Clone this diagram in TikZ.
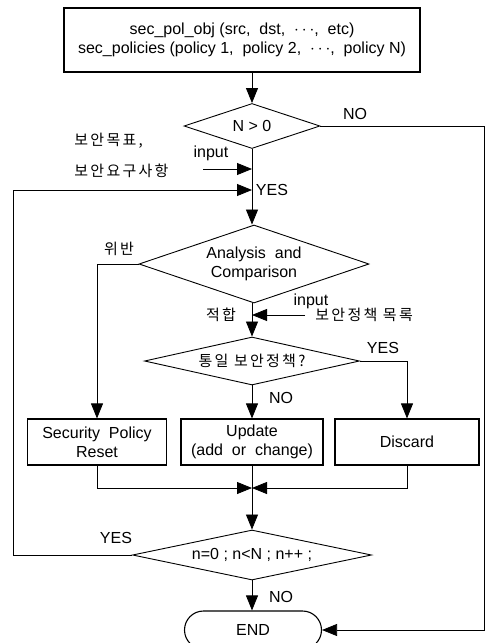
\documentclass[tikz,border=0pt]{standalone}
\usepackage{fontspec}
\setmainfont{Liberation Sans}
\newfontfamily\krf[LetterSpace=15]{Noto Sans CJK KR}
\newcommand\kr{\krf\fontsize{15}{18}\selectfont}
\usetikzlibrary{shapes.geometric,shapes.misc,arrows.meta}

\tikzset{
  box/.style={draw,line width=1.1pt,inner sep=0pt,align=center},
  dec/.style={draw,diamond,shape aspect=4,line width=0.9pt,inner sep=0pt,align=center},
  arr/.style={-{Triangle[length=15pt,width=12pt]}},
  lbl/.style={inner sep=0pt}
}

\begin{document}
\begin{tikzpicture}[x=1pt,y=-1pt,line width=0.8pt,font=\fontsize{16}{19}\selectfont]
\useasboundingbox (0,0) rectangle (486,643);
% process boxes
\node[box,minimum width=356pt,minimum height=64pt] (obj) at (242,40)
  {sec\_pol\_obj (src, \ dst, \ $\cdots$, \ etc)\\sec\_policies (policy 1, \ policy 2, \ $\cdots$, \ policy N)};
\node[box,minimum width=139pt,minimum height=46pt] (spr) at (97,442) {Security \ Policy\\Reset};
\node[box,minimum width=142pt,minimum height=46pt] (upd) at (252,442) {Update\\(add \ or \ change)};
\node[box,minimum width=144pt,minimum height=46pt] (dis) at (407,442) {Discard};
\node[box,rounded rectangle,minimum width=137pt,minimum height=38pt] (end) at (253,630) {END};
% decisions
\node[dec,minimum width=136pt,minimum height=45pt] (d1) at (252,126) {N > 0};
\node[dec,shape aspect=3,minimum width=230pt,minimum height=78pt] (d2) at (254,264) {Analysis \ and\\Comparison};
\node[dec,minimum width=215pt,minimum height=48pt] (d3) at (252,361) {\kr 통일 보안정책?};
\node[dec,minimum width=239pt,minimum height=50pt] (d4) at (252,555) {n=0 ; n<N ; n++ ;};
% helper points
\coordinate (in1) at (252,169);
\coordinate (in1s) at (203,169);
\coordinate (yes1) at (252,190);
\coordinate (in2) at (252,315);
\coordinate (in2s) at (305,315);
\coordinate (m) at (252,488);
\coordinate (lft) at (13,0);
\coordinate (rgt) at (484,0);
% connectors
\draw[arr] (obj.south -| d1.north) -- (d1.north);
\draw[arr] (d1.south) -- (d1.south |- d2.north);
\draw[arr] (d2.south -| d3.north) -- (d3.north);
\draw[arr] (d3.south) -- (upd.north);
\draw[arr] (d2.west) -| (spr.north);
\draw[arr] (d3.east) -| (dis.north);
\draw[arr] (spr.south) |- (m);
\draw[arr] (dis.south) |- (m);
\draw (upd.south) -- (m);
\draw[arr] (m) -- (d4.north);
\draw[arr] (d4.south) -- (d4.south |- end.north);
\draw[arr] (d4.west) -- (d4.west -| lft) |- (yes1);
\draw[arr] (d1.east) -- (d1.east -| rgt) |- (end.east);
\draw[arr] (in1s) -- (in1);
\draw[arr] (in2s) -- (in2);
% labels
\node[lbl] (no1) at (355,114) {NO};
\node[lbl,anchor=west] (goal1) at (74,141) {\kr 보안목표,};
\node[lbl,anchor=west] (goal2) at (74,171) {\kr 보안요구사항};
\node[lbl] (inp1) at (211,153) {input};
\node[lbl] (yes1l) at (272,190) {YES};
\node[lbl] (viol) at (119,249) {\kr 위반};
\node[lbl] (inp2) at (311,301) {input};
\node[lbl,anchor=west] (list) at (315,315) {\kr 보안정책 목록};
\node[lbl] (fit) at (221,315) {\kr 적합};
\node[lbl] (yes2) at (383,348) {YES};
\node[lbl] (no2) at (281,398) {NO};
\node[lbl] (yes3) at (116,538) {YES};
\node[lbl] (no3) at (281,597) {NO};
\end{tikzpicture}
\end{document}
